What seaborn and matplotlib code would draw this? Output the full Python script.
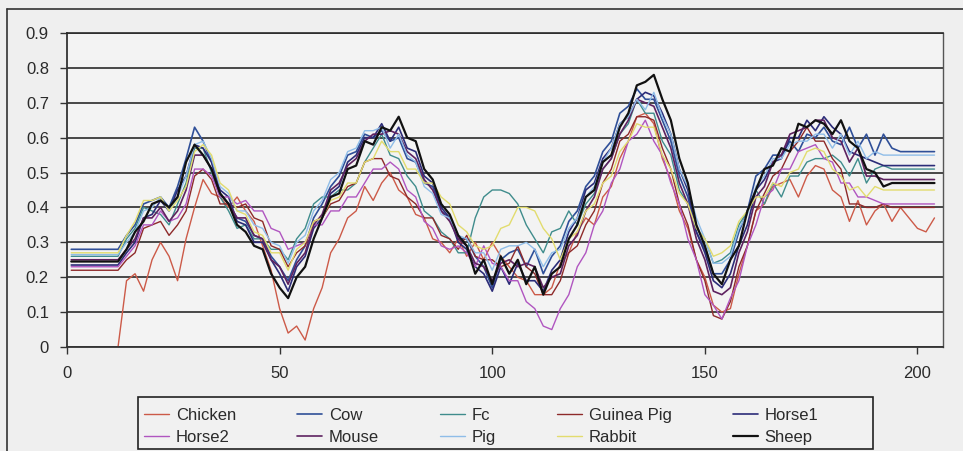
import numpy as np
import pandas as pd
import matplotlib
matplotlib.use("Agg")
import matplotlib.pyplot as plt
from matplotlib.patches import Rectangle
import seaborn as sns

# Category positions: first point, then every 2nd position from 12 to 204
x_pos = [1] + list(range(12, 206, 2))

# Series values (x100)
chicken = [np.nan,
           0, 19, 21, 16, 25, 30, 26, 19, 31, 40,
           48, 44, 43, 40, 43, 39, 36, 29, 22, 11,
           4, 6, 2, 11, 17, 27, 31, 37, 39, 46,
           42, 47, 50, 45, 43, 38, 37, 31, 30, 27,
           31, 26, 30, 25, 30, 26, 23, 20, 19, 15,
           15, 17, 24, 27, 33, 37, 35, 43, 46, 54,
           59, 66, 67, 64, 54, 48, 39, 34, 25, 20,
           12, 10, 11, 21, 29, 39, 41, 46, 47, 48,
           43, 49, 52, 51, 45, 43, 36, 42, 35, 39,
           41, 36, 40, 37, 34, 33, 37]
cow = [28,
       28, 32, 35, 41, 42, 43, 40, 46, 54, 63,
       59, 53, 44, 41, 37, 36, 32, 31, 26, 23,
       19, 25, 29, 37, 41, 46, 49, 55, 56, 61,
       60, 62, 59, 60, 54, 53, 47, 46, 39, 37,
       31, 31, 26, 23, 17, 25, 27, 28, 23, 28,
       21, 26, 29, 36, 39, 46, 49, 56, 59, 67,
       69, 74, 71, 71, 65, 59, 49, 43, 33, 28,
       21, 21, 25, 33, 39, 49, 51, 55, 55, 59,
       56, 61, 60, 63, 59, 58, 63, 57, 61, 55,
       61, 57, 56, 56, 56, 56, 56]
fc = [26,
      26, 31, 34, 40, 39, 38, 35, 41, 47, 57,
      57, 50, 43, 39, 34, 35, 31, 31, 28, 28,
      25, 31, 34, 41, 43, 43, 45, 45, 47, 53,
      57, 61, 55, 54, 49, 46, 39, 37, 33, 31,
      27, 27, 37, 43, 45, 45, 44, 41, 35, 31,
      27, 33, 34, 39, 35, 41, 44, 51, 54, 61,
      64, 71, 67, 67, 59, 55, 45, 41, 34, 31,
      24, 25, 27, 35, 39, 45, 41, 47, 43, 49,
      49, 53, 54, 54, 55, 53, 49, 54, 47, 51,
      52, 51, 51, 51, 51, 51, 51]
guinea_pig = [22,
              22, 25, 27, 34, 35, 36, 32, 35, 39, 49,
              51, 48, 41, 41, 40, 41, 37, 36, 29, 28,
              23, 27, 29, 36, 37, 41, 42, 46, 47, 53,
              54, 54, 49, 48, 43, 41, 37, 37, 32, 31,
              28, 32, 26, 25, 25, 23, 24, 29, 23, 21,
              15, 15, 19, 27, 29, 35, 39, 47, 51, 59,
              61, 66, 66, 65, 57, 51, 41, 35, 25, 19,
              9, 8, 13, 23, 29, 39, 44, 49, 51, 56,
              59, 63, 59, 59, 54, 51, 41, 41, 40, 40,
              41, 40, 40, 40, 40, 40, 40]
horse1 = [23.5,
          23.5, 27, 30, 37, 38, 42, 39, 45, 49, 58,
          57, 53, 45, 43, 36, 35, 30, 30, 25, 21,
          16, 23, 26, 34, 37, 44, 46, 53, 55, 60,
          60, 64, 59, 63, 57, 56, 49, 47, 40, 37,
          30, 28, 23, 21, 16, 23, 18, 24, 19, 19,
          16, 22, 25, 33, 37, 45, 47, 54, 57, 64,
          66, 71, 73, 72, 67, 61, 51, 45, 33, 27,
          19, 17, 21, 29, 35, 45, 48, 53, 54, 60,
          60, 65, 62, 66, 63, 61, 56, 55, 54, 53,
          52, 52, 52, 52, 52, 52, 52]
horse2 = [23,
          23, 26, 29, 35, 35, 39, 36, 37, 41, 51,
          51, 49, 43, 43, 41, 42, 39, 39, 34, 33,
          28, 29, 30, 35, 35, 39, 39, 43, 43, 47,
          51, 51, 53, 51, 45, 43, 36, 34, 29, 28,
          29, 27, 23, 29, 24, 23, 19, 19, 13, 11,
          6, 5, 11, 15, 23, 27, 35, 39, 47, 51,
          59, 61, 65, 59, 55, 47, 41, 31, 25, 15,
          12, 8, 14, 19, 29, 35, 43, 45, 51, 51,
          56, 57, 58, 54, 53, 47, 47, 43, 43, 42,
          41, 41, 41, 41, 41, 41, 41]
mouse = [25,
         25, 28, 31, 37, 37, 40, 36, 39, 45, 55,
         55, 51, 44, 41, 37, 37, 32, 31, 25, 23,
         18, 24, 27, 35, 38, 45, 47, 52, 54, 59,
         61, 61, 62, 61, 56, 54, 48, 45, 39, 36,
         31, 29, 24, 23, 19, 24, 25, 23, 24, 23,
         17, 20, 21, 29, 32, 39, 43, 51, 54, 61,
         65, 71, 70, 69, 63, 57, 47, 41, 31, 25,
         16, 15, 17, 27, 33, 43, 46, 53, 55, 61,
         62, 63, 65, 65, 60, 59, 53, 57, 49, 49,
         48, 48, 48, 48, 48, 48, 48]
pig = [26.5,
       26.5, 30, 33, 39, 40, 43, 39, 43, 49, 58,
       59, 54, 46, 44, 39, 39, 35, 34, 30, 29,
       24, 30, 32, 39, 42, 48, 50, 56, 57, 62,
       62, 63, 57, 61, 55, 53, 46, 44, 38, 37,
       32, 31, 27, 27, 22, 28, 29, 29, 30, 28,
       23, 27, 28, 34, 37, 43, 46, 53, 57, 64,
       66, 71, 68, 73, 66, 61, 51, 46, 37, 31,
       24, 24, 26, 34, 38, 46, 49, 54, 54, 58,
       59, 59, 61, 61, 57, 61, 55, 59, 54, 56,
       55, 55, 55, 55, 55, 55, 55]
rabbit = [27,
          27, 32, 36, 42, 42, 43, 39, 42, 46, 56,
          58, 55, 47, 45, 39, 38, 33, 32, 27, 27,
          22, 28, 30, 36, 37, 42, 43, 47, 47, 53,
          54, 59, 56, 56, 51, 51, 47, 47, 43, 41,
          35, 33, 29, 28, 29, 34, 35, 40, 40, 39,
          34, 31, 25, 31, 33, 39, 41, 47, 49, 56,
          59, 64, 63, 63, 55, 51, 44, 41, 34, 31,
          26, 27, 29, 36, 39, 43, 43, 47, 46, 50,
          51, 56, 57, 56, 51, 49, 45, 46, 43, 46,
          45, 45, 45, 45, 45, 45, 45]
sheep = [24.5,
         24.5, 28, 33, 36, 41, 42, 40, 43, 53, 58,
         55, 51, 44, 41, 35, 33, 29, 28, 21, 17,
         14, 20, 23, 31, 37, 43, 44, 51, 52, 59,
         58, 63, 62, 66, 60, 59, 51, 48, 41, 38,
         32, 29, 21, 25, 18, 26, 21, 25, 18, 23,
         15, 21, 23, 31, 35, 43, 45, 53, 55, 63,
         67, 75, 76, 78, 71, 65, 54, 47, 35, 29,
         21, 18, 25, 29, 39, 45, 51, 52, 57, 56,
         64, 63, 65, 64, 61, 65, 59, 57, 51, 50,
         46, 47, 47, 47, 47, 47, 47]

names = ["Chicken", "Cow", "Fc", "Guinea Pig", "Horse1",
         "Horse2", "Mouse", "Pig", "Rabbit", "Sheep"]
values = [chicken, cow, fc, guinea_pig, horse1,
          horse2, mouse, pig, rabbit, sheep]
colors = ["#cc5a48", "#2f4f98", "#3f8c8c", "#8e2a2a", "#2c2c78",
          "#b055c0", "#5e2260", "#8fbde8", "#e2dc6e", "#111111"]

y_ticks = [0, 0.1, 0.2, 0.3, 0.4, 0.5, 0.6, 0.7, 0.8, 0.9]
y_labels = ["0", "0.1", "0.2", "0.3", "0.4", "0.5", "0.6", "0.7", "0.8", "0.9"]
x_ticks = [0, 50, 100, 150, 200]
x_labels = ["0", "50", "100", "150", "200"]

rows = []
for name, vals in zip(names, values):
    for xp, v in zip(x_pos, vals):
        rows.append({"x": xp, "value": v / 100.0, "series": name})
df = pd.DataFrame(rows)

sns.set_theme(style="white")
plt.rcParams["font.family"] = ["Liberation Sans", "DejaVu Sans"]

W, H = 963, 451
fig = plt.figure(figsize=(W / 100, H / 100), dpi=100, facecolor="#efefef")
ax = fig.add_axes([67 / W, 1 - 347 / H, (943 - 67) / W, (347 - 33) / H])
ax.set_facecolor("#f3f3f3")

sns.lineplot(data=df, x="x", y="value", hue="series", hue_order=names,
             palette=colors, ax=ax, linewidth=1.0, legend=False,
             estimator=None, sort=False)
for line, name in zip(ax.lines, names):
    if name == "Sheep":
        line.set_linewidth(1.6)
    elif name in ("Cow", "Horse1", "Mouse"):
        line.set_linewidth(1.2)

ax.set_xlim(0, 206)
ax.set_ylim(0, 0.9)
ax.set_yticks(y_ticks)
ax.set_yticklabels(y_labels)
ax.set_xticks(x_ticks)
ax.set_xticklabels(x_labels)
ax.set_xlabel("")
ax.set_ylabel("")
ax.yaxis.grid(True, color="#2a2a2a", linewidth=1.2)
ax.xaxis.grid(False)
ax.set_axisbelow(True)
ax.tick_params(axis="both", direction="out", length=5, width=1.0,
               color="#333333", labelsize=12, labelcolor="#2a2a2a",
               left=True, bottom=True)
ax.tick_params(axis="y", pad=8)
ax.tick_params(axis="x", pad=9)
for side in ("left", "bottom"):
    ax.spines[side].set_color("#333333")
    ax.spines[side].set_linewidth(1.3)
ax.spines["right"].set_color("#555555")
ax.spines["right"].set_linewidth(1.0)
ax.spines["top"].set_color("#2a2a2a")
ax.spines["top"].set_linewidth(1.2)

# outer chart frame
fig.add_artist(plt.Line2D([7 / W, 7 / W], [0, 1 - 9 / H], transform=fig.transFigure,
                          color="#333333", linewidth=1.2))
fig.add_artist(plt.Line2D([7 / W, 1], [1 - 9 / H, 1 - 9 / H], transform=fig.transFigure,
                          color="#333333", linewidth=1.2))

# legend box
fig.add_artist(Rectangle((138 / W, 1 - 449 / H), (873 - 138) / W, (449 - 397) / H,
                         transform=fig.transFigure, facecolor="#f1f1f1",
                         edgecolor="#222222", linewidth=1.2, zorder=2))

# legend entries laid out row by row (matplotlib fills columns first)
handles = list(ax.lines)
order = [0, 5, 1, 6, 2, 7, 3, 8, 4, 9]
leg = fig.legend([handles[i] for i in order], [names[i] for i in order],
                 loc="center",
                 bbox_to_anchor=(144 / W, 1 - 452 / H, (818 - 144) / W, (452 - 401) / H),
                 mode="expand", ncol=5, frameon=False,
                 fontsize=12, borderpad=0.0, handlelength=1.5,
                 handletextpad=0.4, labelspacing=0.45, borderaxespad=0)
leg.set_zorder(3)
for t in leg.get_texts():
    t.set_color("#2a2a2a")

fig.savefig("out.png", dpi=100, facecolor=fig.get_facecolor())
